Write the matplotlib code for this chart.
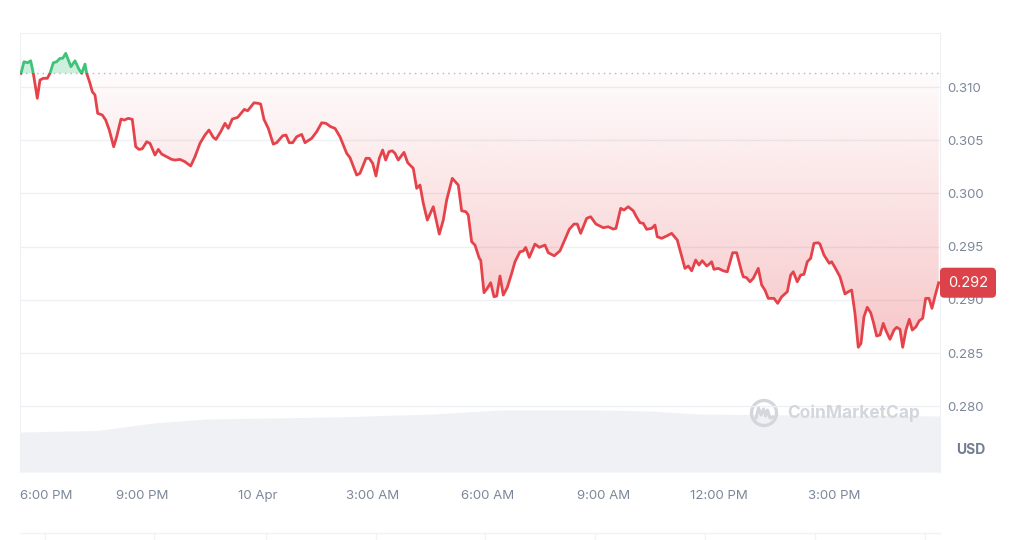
import numpy as np
import matplotlib
matplotlib.use("Agg")
import matplotlib.pyplot as plt
import matplotlib.transforms as mtransforms
from matplotlib.patches import Rectangle, Circle
from matplotlib.path import Path
from matplotlib.lines import Line2D

plt.rcParams['font.family'] = ['Inter', 'DejaVu Sans']

# hours after 6:00 PM (9 Apr) and price in USD
hours = [
    -0.148, -0.070, 0.026, 0.104, 0.172, 0.276, 0.346, 0.432, 0.536, 0.606,
    0.692, 0.780, 0.866, 0.937, 1.015, 1.082, 1.152, 1.257, 1.361, 1.431,
    1.517, 1.561, 1.647, 1.707, 1.777, 1.847, 1.967, 2.055, 2.149, 2.263,
    2.341, 2.453, 2.539, 2.643, 2.747, 2.836, 2.921, 3.007, 3.122, 3.208,
    3.338, 3.424, 3.512, 3.642, 3.772, 3.858, 3.988, 4.118, 4.266, 4.378,
    4.508, 4.638, 4.742, 4.854, 4.925, 5.047, 5.159, 5.245, 5.349, 5.489,
    5.661, 5.749, 5.913, 6.025, 6.087, 6.173, 6.285, 6.415, 6.504, 6.660,
    6.746, 6.831, 6.920, 7.024, 7.154, 7.240, 7.414, 7.544, 7.674, 7.786,
    7.908, 8.020, 8.150, 8.325, 8.411, 8.585, 8.671, 8.827, 8.913, 9.001,
    9.087, 9.173, 9.261, 9.339, 9.425, 9.511, 9.581, 9.667, 9.815, 9.912,
    10.057, 10.146, 10.232, 10.318, 10.422, 10.578, 10.734, 10.838, 10.926, 11.072,
    11.228, 11.316, 11.428, 11.488, 11.576, 11.662, 11.774, 11.811, 11.897, 11.982,
    12.071, 12.157, 12.227, 12.313, 12.399, 12.503, 12.617, 12.703, 12.833, 12.919,
    12.981, 13.075, 13.223, 13.335, 13.483, 13.569, 13.725, 13.874, 13.959, 14.116,
    14.238, 14.324, 14.412, 14.568, 14.672, 14.810, 15.000, 15.130, 15.260, 15.330,
    15.453, 15.538, 15.650, 15.780, 15.851, 15.955, 16.040, 16.129, 16.259, 16.345,
    16.405, 16.519, 16.649, 16.779, 16.925, 17.125, 17.211, 17.300, 17.404, 17.490,
    17.575, 17.690, 17.757, 17.820, 17.879, 17.991, 18.122, 18.226, 18.366, 18.470,
    18.600, 18.642, 18.730, 18.816, 18.902, 19.032, 19.121, 19.206, 19.292, 19.441,
    19.537, 19.641, 19.787, 19.875, 19.943, 20.047, 20.135, 20.221, 20.307, 20.395,
    20.481, 20.593, 20.637, 20.742, 20.880, 20.942, 21.054, 21.158, 21.288, 21.374,
    21.462, 21.548, 21.634, 21.704, 21.782, 21.868, 21.957, 22.024, 22.113, 22.199,
    22.284, 22.355, 22.459, 22.563, 22.633, 22.719, 22.789, 22.875, 22.961, 23.039,
    23.135, 23.221, 23.309, 23.387, 23.473, 23.551, 23.637, 23.726,
]
prices = [
    0.31129, 0.31238, 0.31228, 0.31247, 0.31129, 0.30894, 0.31066, 0.31082, 0.31082, 0.31129,
    0.31228, 0.31238, 0.31270, 0.31270, 0.31317, 0.31254, 0.31191, 0.31247, 0.31166, 0.31129,
    0.31216, 0.31129, 0.31035, 0.30956, 0.30925, 0.30753, 0.30737, 0.30690, 0.30596, 0.30439,
    0.30533, 0.30699, 0.30690, 0.30706, 0.30696, 0.30439, 0.30414, 0.30420, 0.30486, 0.30471,
    0.30361, 0.30414, 0.30370, 0.30345, 0.30320, 0.30314, 0.30320, 0.30298, 0.30258, 0.30345,
    0.30471, 0.30549, 0.30596, 0.30527, 0.30508, 0.30580, 0.30659, 0.30612, 0.30699, 0.30715,
    0.30790, 0.30777, 0.30852, 0.30847, 0.30840, 0.30696, 0.30612, 0.30464, 0.30477, 0.30542,
    0.30549, 0.30477, 0.30477, 0.30533, 0.30555, 0.30477, 0.30518, 0.30580, 0.30664, 0.30659,
    0.30627, 0.30612, 0.30533, 0.30377, 0.30336, 0.30173, 0.30189, 0.30330, 0.30330, 0.30283,
    0.30164, 0.30330, 0.30408, 0.30314, 0.30392, 0.30401, 0.30377, 0.30314, 0.30386, 0.30289,
    0.30236, 0.30048, 0.30079, 0.29907, 0.29750, 0.29875, 0.29618, 0.29750, 0.29938, 0.30142,
    0.30079, 0.29837, 0.29828, 0.29797, 0.29546, 0.29515, 0.29390, 0.29374, 0.29067, 0.29108,
    0.29161, 0.29029, 0.29036, 0.29224, 0.29045, 0.29117, 0.29249, 0.29358, 0.29452, 0.29459,
    0.29493, 0.29399, 0.29524, 0.29493, 0.29515, 0.29443, 0.29414, 0.29461, 0.29531, 0.29663,
    0.29712, 0.29712, 0.29625, 0.29766, 0.29781, 0.29712, 0.29678, 0.29687, 0.29665, 0.29672,
    0.29860, 0.29844, 0.29875, 0.29837, 0.29788, 0.29725, 0.29719, 0.29663, 0.29672, 0.29703,
    0.29593, 0.29578, 0.29600, 0.29625, 0.29562, 0.29296, 0.29318, 0.29273, 0.29374, 0.29327,
    0.29368, 0.29318, 0.29336, 0.29358, 0.29287, 0.29296, 0.29273, 0.29264, 0.29443, 0.29443,
    0.29264, 0.29217, 0.29208, 0.29170, 0.29202, 0.29296, 0.29139, 0.29092, 0.29014, 0.29014,
    0.28967, 0.29029, 0.29076, 0.29233, 0.29264, 0.29170, 0.29233, 0.29240, 0.29358, 0.29390,
    0.29531, 0.29537, 0.29524, 0.29421, 0.29343, 0.29358, 0.29287, 0.29217, 0.29055, 0.29076,
    0.29092, 0.28873, 0.28554, 0.28591, 0.28841, 0.28930, 0.28879, 0.28794, 0.28660, 0.28670,
    0.28779, 0.28710, 0.28629, 0.28716, 0.28742, 0.28723, 0.28554, 0.28716, 0.28817, 0.28716,
    0.28747, 0.28804, 0.28826, 0.29014, 0.29014, 0.28920, 0.29045, 0.29161,
]
open_price = 0.3113

# trading volume (relative units)
vol_hours = [-0.174, 1.829, 3.286, 4.690, 7.968, 10.570, 12.313, 14.914, 16.215, 17.516, 20.118, 23.760]
volume = [40, 41.5, 49, 53, 55, 58, 62, 62, 61, 58, 57, 56]

tick_hours = [0, 3, 6, 9, 12, 15, 18, 21]
tick_labels = ['6:00 PM', '9:00 PM', '10 Apr', '3:00 AM', '6:00 AM', '9:00 AM', '12:00 PM', '3:00 PM']
price_ticks = [0.280, 0.285, 0.290, 0.295, 0.300, 0.305, 0.310]

RED = '#e5434b'
GREEN = '#3fc37a'
GREY_TXT = '#7d879a'
GRID = '#eef0f3'

h = np.array(hours)
p = np.array(prices)
xmin, xmax = -0.174, 23.76
ymin, ymax = 0.27382, 0.31508

fig = plt.figure(figsize=(10.24, 5.4), dpi=100)
L, B, W, H = 20 / 1024, 68 / 540, 920 / 1024, 439 / 540

# volume strip at the bottom
ax_vol = fig.add_axes([L, B, W, 100 / 540], zorder=0)
ax_vol.fill_between(vol_hours, volume, 0, color='#eff1f4', lw=0)
ax_vol.set_xlim(xmin, xmax)
ax_vol.set_ylim(0, 100)
ax_vol.axis('off')

ax = fig.add_axes([L, B, W, H], zorder=1)
ax.patch.set_visible(False)
ax.set_xlim(xmin, xmax)
ax.set_ylim(ymin, ymax)

for yv in price_ticks:
    ax.axhline(yv, color=GRID, lw=1, zorder=0)
ax.axhline(open_price, color='#b3b9c3', lw=1, ls=(0, (1, 3)), zorder=1)

# red gradient between the open price and the line
below = ax.fill_between(h, p, open_price, where=p <= open_price, interpolate=True, lw=0)
clip = Path.make_compound_path(*below.get_paths())
below.remove()
grad_y = np.linspace(0, 1, 256)[:, None]
rgba = np.zeros((256, 1, 4))
rgba[..., :3] = matplotlib.colors.to_rgb(RED)
rgba[..., 3] = 0.02 + 0.28 * (1 - grad_y)
im = ax.imshow(rgba, extent=[xmin, xmax, 0.2855, open_price], origin='lower',
               aspect='auto', interpolation='bilinear', zorder=1)
im.set_clip_path(clip, ax.transData)
ax.set_xlim(xmin, xmax)
ax.set_ylim(ymin, ymax)

ax.fill_between(h, p, open_price, where=p >= open_price, interpolate=True,
                color=GREEN, alpha=0.25, lw=0, zorder=1)

red_line, = ax.plot(h, p, color=RED, lw=2, zorder=3, solid_joinstyle='round')
red_line.set_clip_path(Rectangle((xmin, ymin), xmax - xmin, open_price - ymin,
                                 transform=ax.transData))
green_line, = ax.plot(h, p, color=GREEN, lw=2, zorder=3, solid_joinstyle='round')
green_line.set_clip_path(Rectangle((xmin, open_price), xmax - xmin, ymax - open_price,
                                   transform=ax.transData))

# axes styling
for side in ['top', 'left', 'right']:
    ax.spines[side].set_color(GRID)
ax.spines['bottom'].set_visible(False)
ax.yaxis.tick_right()
ax.set_yticks(price_ticks)
ax.set_yticklabels([f'{v:.3f}' for v in price_ticks])
ax.tick_params(axis='y', length=0, pad=5, labelsize=9.5, labelcolor=GREY_TXT)
ax.set_xticks(tick_hours)
ax.set_xticklabels(tick_labels)
ax.tick_params(axis='x', length=0, pad=13, labelsize=9.5, labelcolor=GREY_TXT)
first = ax.get_xticklabels()[0]
first.set_horizontalalignment('left')
first.set_transform(first.get_transform() + mtransforms.ScaledTranslation(-7 / 100, 0, fig.dpi_scale_trans))

# current price badge
badge_tr = mtransforms.offset_copy(ax.get_yaxis_transform(), fig=fig, x=8, y=0, units='dots')
ax.text(1.0, p[-1], f'{p[-1]:.3f}', transform=badge_tr, ha='left', va='center',
        color='white', fontsize=10.5, clip_on=False, zorder=5,
        bbox=dict(boxstyle='round,pad=0.55,rounding_size=0.3', fc='#dc4249', ec='none'))

fig.text(971 / 1024, 1 - 450 / 540, 'USD', ha='center', va='center',
         fontsize=10, fontweight='bold', color='#737d90')

# watermark
wm = '#d3d7dd'
logo_tr = mtransforms.ScaledTranslation(764 / 1024, 1 - 413 / 540, fig.transFigure)
fig.add_artist(Circle((0, 0), 12.5, transform=logo_tr, fill=False, ec=wm, lw=2.4))
fig.add_artist(Line2D([-8, -5.5, -3, -0.5, 1.5, 3.5, 6, 8.5],
                      [-5, 5, -2, 4, -3, 3, -5, -4],
                      transform=logo_tr, color=wm, lw=2.2, solid_joinstyle='round'))
fig.text(787 / 1024, 1 - 413 / 540, 'CoinMarketCap', ha='left', va='center',
         fontsize=12.5, fontweight='bold', color=wm)

# faint divider below the chart
fig.add_artist(Line2D([20 / 1024, 940 / 1024], [1 - 533 / 540] * 2,
                      transform=fig.transFigure, color='#f2f3f5', lw=1))
for xp in [45, 154, 266, 376, 485, 595, 705, 815, 925]:
    fig.add_artist(Line2D([xp / 1024] * 2, [1 - 533 / 540, 0],
                          transform=fig.transFigure, color='#f2f3f5', lw=1))

fig.savefig('out.png', dpi=100)
